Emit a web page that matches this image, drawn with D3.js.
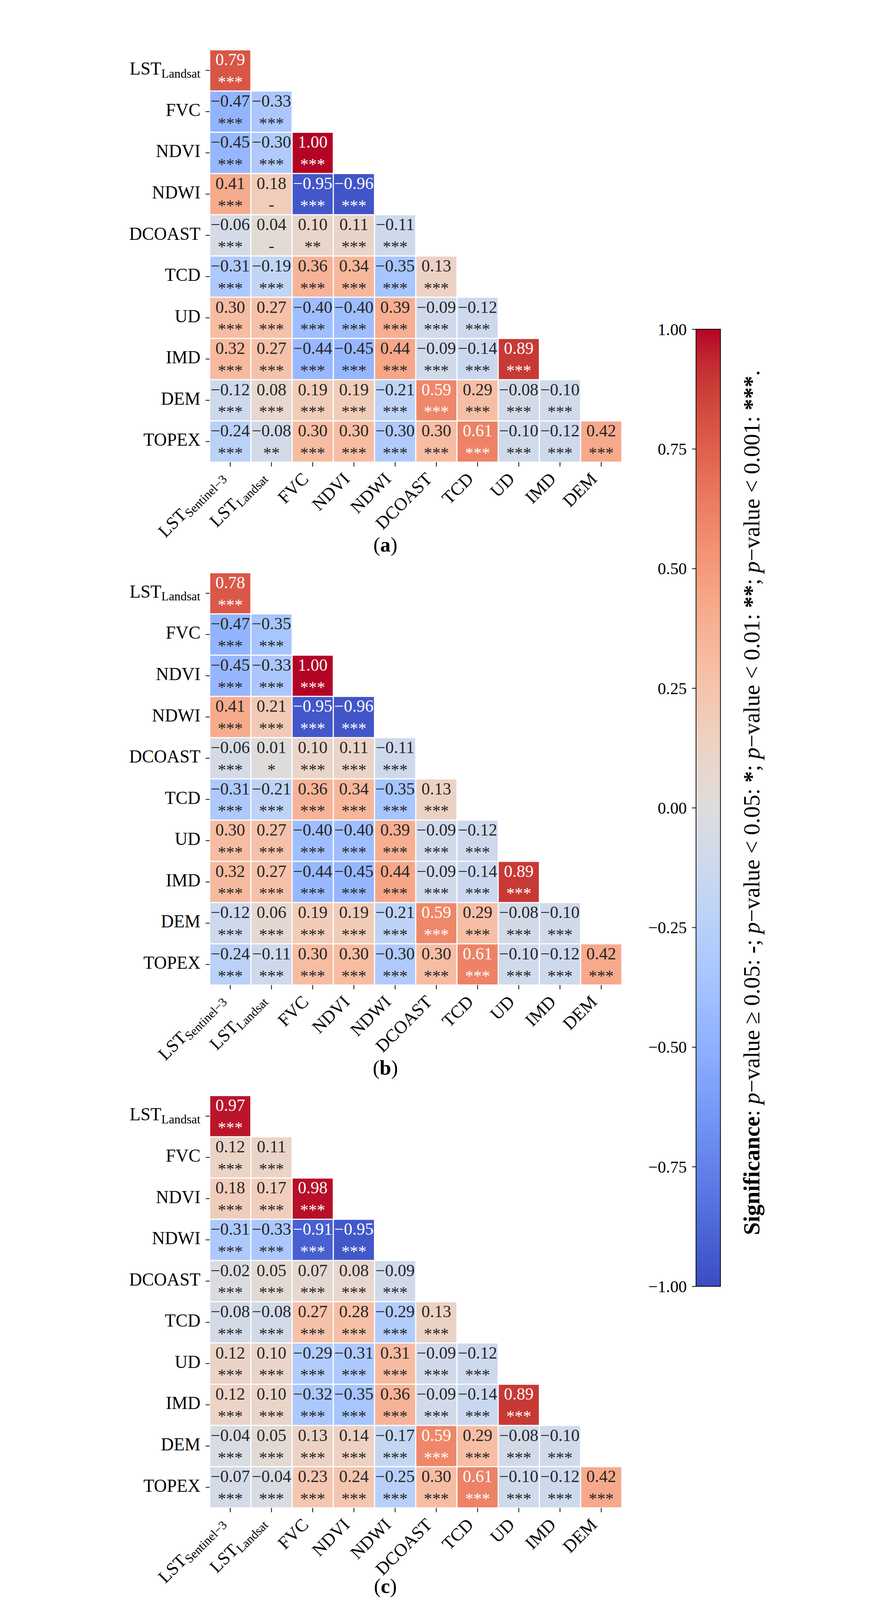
<!DOCTYPE html>
<html>
<head>
<meta charset="utf-8">
<script src="https://cdn.jsdelivr.net/npm/d3@7"></script>
<style>
  html, body { margin: 0; padding: 0; background: #fff; overflow: hidden; }
  svg { display: block; }
</style>
</head>
<body>
<svg id="chart"></svg>
<script>
// labels (main text, subscript)
const rowLabels = [["LST", "Landsat"], ["FVC"], ["NDVI"], ["NDWI"], ["DCOAST"], ["TCD"], ["UD"], ["IMD"], ["DEM"], ["TOPEX"]];
const colLabels = [["LST", "Sentinel\u22123"], ["LST", "Landsat"], ["FVC"], ["NDVI"], ["NDWI"], ["DCOAST"], ["TCD"], ["UD"], ["IMD"], ["DEM"]];
const panelNames = ["a", "b", "c"];

// lower triangle correlations, one row per variable
const valuesA = [
  [0.79],
  [-0.47, -0.33],
  [-0.45, -0.30, 1.00],
  [0.41, 0.18, -0.95, -0.96],
  [-0.06, 0.04, 0.10, 0.11, -0.11],
  [-0.31, -0.19, 0.36, 0.34, -0.35, 0.13],
  [0.30, 0.27, -0.40, -0.40, 0.39, -0.09, -0.12],
  [0.32, 0.27, -0.44, -0.45, 0.44, -0.09, -0.14, 0.89],
  [-0.12, 0.08, 0.19, 0.19, -0.21, 0.59, 0.29, -0.08, -0.10],
  [-0.24, -0.08, 0.30, 0.30, -0.30, 0.30, 0.61, -0.10, -0.12, 0.42]
];
const sigA = [
  ["***"],
  ["***", "***"],
  ["***", "***", "***"],
  ["***", "-", "***", "***"],
  ["***", "-", "**", "***", "***"],
  ["***", "***", "***", "***", "***", "***"],
  ["***", "***", "***", "***", "***", "***", "***"],
  ["***", "***", "***", "***", "***", "***", "***", "***"],
  ["***", "***", "***", "***", "***", "***", "***", "***", "***"],
  ["***", "**", "***", "***", "***", "***", "***", "***", "***", "***"]
];

const valuesB = [
  [0.78],
  [-0.47, -0.35],
  [-0.45, -0.33, 1.00],
  [0.41, 0.21, -0.95, -0.96],
  [-0.06, 0.01, 0.10, 0.11, -0.11],
  [-0.31, -0.21, 0.36, 0.34, -0.35, 0.13],
  [0.30, 0.27, -0.40, -0.40, 0.39, -0.09, -0.12],
  [0.32, 0.27, -0.44, -0.45, 0.44, -0.09, -0.14, 0.89],
  [-0.12, 0.06, 0.19, 0.19, -0.21, 0.59, 0.29, -0.08, -0.10],
  [-0.24, -0.11, 0.30, 0.30, -0.30, 0.30, 0.61, -0.10, -0.12, 0.42]
];
const sigB = [
  ["***"],
  ["***", "***"],
  ["***", "***", "***"],
  ["***", "***", "***", "***"],
  ["***", "*", "***", "***", "***"],
  ["***", "***", "***", "***", "***", "***"],
  ["***", "***", "***", "***", "***", "***", "***"],
  ["***", "***", "***", "***", "***", "***", "***", "***"],
  ["***", "***", "***", "***", "***", "***", "***", "***", "***"],
  ["***", "***", "***", "***", "***", "***", "***", "***", "***", "***"]
];

const valuesC = [
  [0.97],
  [0.12, 0.11],
  [0.18, 0.17, 0.98],
  [-0.31, -0.33, -0.91, -0.95],
  [-0.02, 0.05, 0.07, 0.08, -0.09],
  [-0.08, -0.08, 0.27, 0.28, -0.29, 0.13],
  [0.12, 0.10, -0.29, -0.31, 0.31, -0.09, -0.12],
  [0.12, 0.10, -0.32, -0.35, 0.36, -0.09, -0.14, 0.89],
  [-0.04, 0.05, 0.13, 0.14, -0.17, 0.59, 0.29, -0.08, -0.10],
  [-0.07, -0.04, 0.23, 0.24, -0.25, 0.30, 0.61, -0.10, -0.12, 0.42]
];
const sigC = [
  ["***"],
  ["***", "***"],
  ["***", "***", "***"],
  ["***", "***", "***", "***"],
  ["***", "***", "***", "***", "***"],
  ["***", "***", "***", "***", "***", "***"],
  ["***", "***", "***", "***", "***", "***", "***"],
  ["***", "***", "***", "***", "***", "***", "***", "***"],
  ["***", "***", "***", "***", "***", "***", "***", "***", "***"],
  ["***", "***", "***", "***", "***", "***", "***", "***", "***", "***"]
];

const cbTicks = [-1, -0.75, -0.5, -0.25, 0, 0.25, 0.5, 0.75, 1];

// coolwarm anchors (style)
const coolwarm = ["#3b4cc0", "#445acc", "#4d68d7", "#5775e1", "#6282ea", "#6c8ef1", "#779af7", "#82a5fb",
  "#8db0fe", "#98b9ff", "#a3c2ff", "#aec9fd", "#b8d0f9", "#c2d5f4", "#ccd9ee", "#d5dbe6", "#dddddd",
  "#e5d8d1", "#ecd3c5", "#f1ccb9", "#f5c4ad", "#f7bba0", "#f7b194", "#f7a687", "#f49a7b", "#f18d6f",
  "#ec7f63", "#e57058", "#de604d", "#d55042", "#cb3e38", "#c0282f", "#b40426"];

// the figure is laid out at 2277 x 5560 and scaled to fit the window
const W = 2277, H = 5560;
const font = "'Liberation Serif', 'DejaVu Serif', serif";
const svg = d3.select("#chart")
  .attr("width", window.innerWidth || W)
  .attr("height", window.innerHeight || H)
  .attr("viewBox", `0 0 ${W} ${H}`)
  .attr("preserveAspectRatio", "xMidYMid meet")
  .style("font-family", font);
svg.append("rect").attr("width", W).attr("height", H).attr("fill", "#fff");

const color = d3.scaleLinear()
  .domain(coolwarm.map((c, i) => -1 + 2 * i / (coolwarm.length - 1)))
  .range(coolwarm)
  .clamp(true);

// seaborn picks white or dark text from the cell luminance
function luminance(c) {
  const rgb = d3.rgb(c);
  const f = v => { v /= 255; return v <= 0.03928 ? v / 12.92 : Math.pow((v + 0.055) / 1.055, 2.4); };
  return 0.2126 * f(rgb.r) + 0.7152 * f(rgb.g) + 0.0722 * f(rgb.b);
}
const fmt = d3.format(".2f");

const gridLeft = 322, cell = 143.3;
const panelTops = [173, 1990, 3807];
const panels = [[valuesA, sigA], [valuesB, sigB], [valuesC, sigC]];

const x = d3.scaleBand().domain(d3.range(10)).range([gridLeft, gridLeft + 10 * cell]);

panels.forEach(([values, sig], p) => {
  const top = panelTops[p];
  const y = d3.scaleBand().domain(d3.range(10)).range([top, top + 10 * cell]);
  const g = svg.append("g").attr("class", "panel-" + panelNames[p]);

  const cells = [];
  values.forEach((row, i) => row.forEach((v, j) => cells.push({ i, j, v, s: sig[i][j] })));

  g.selectAll("rect.cell").data(cells).join("rect")
    .attr("class", "cell")
    .attr("x", d => x(d.j) + 2)
    .attr("y", d => y(d.i) + 2)
    .attr("width", x.bandwidth() - 4)
    .attr("height", y.bandwidth() - 4)
    .attr("fill", d => color(d.v));

  const txtColor = d => luminance(color(d.v)) > 0.408 ? "#262626" : "#ffffff";

  g.selectAll("text.val").data(cells).join("text")
    .attr("class", "val")
    .attr("x", d => x(d.j) + x.bandwidth() / 2)
    .attr("y", d => y(d.i) + 54)
    .attr("text-anchor", "middle")
    .attr("font-size", 59)
    .attr("fill", txtColor)
    .text(d => fmt(d.v));

  g.selectAll("text.sig").data(cells).join("text")
    .attr("class", "sig")
    .attr("x", d => x(d.j) + x.bandwidth() / 2)
    .attr("y", d => y(d.i) + (d.s === "-" ? 126 : 131))
    .attr("text-anchor", "middle")
    .attr("font-size", 58)
    .attr("fill", txtColor)
    .text(d => d.s);

  // y axis
  const ya = g.append("g")
    .attr("transform", `translate(${gridLeft},0)`)
    .call(d3.axisLeft(y).tickSize(14).tickPadding(18).tickFormat(""));
  ya.attr("font-size", null).attr("font-family", null);
  ya.select(".domain").remove();
  ya.selectAll(".tick line").attr("stroke", "#000").attr("stroke-width", 2.6);
  ya.selectAll(".tick text").each(function (i) {
    const t = d3.select(this).attr("font-size", 62).attr("fill", "#000").attr("dy", 15);
    t.append("tspan").text(rowLabels[i][0]);
    if (rowLabels[i][1]) t.append("tspan").attr("font-size", 43).attr("dy", 10).text(rowLabels[i][1]);
  });

  // x axis
  const xa = g.append("g")
    .attr("transform", `translate(0,${top + 10 * cell})`)
    .call(d3.axisBottom(x).tickSize(15).tickFormat(""));
  xa.attr("font-size", null).attr("font-family", null);
  xa.select(".domain").remove();
  xa.selectAll(".tick line").attr("stroke", "#000").attr("stroke-width", 2.6);
  xa.selectAll(".tick text").each(function (j) {
    const sub = !!colLabels[j][1];
    const t = d3.select(this)
      .attr("y", null).attr("dy", null)
      .attr("font-size", 62).attr("fill", "#000")
      .attr("text-anchor", "end")
      .attr("transform", `translate(${sub ? -16 : -11},${sub ? 55 : 62}) rotate(-45)`);
    t.append("tspan").text(colLabels[j][0]);
    if (sub) t.append("tspan").attr("font-size", 43).attr("dy", 10).text(colLabels[j][1]);
  });

  // panel label
  const lab = svg.append("text")
    .attr("x", 933)
    .attr("y", Math.min(top + 1744, H - 24))
    .attr("text-anchor", "middle")
    .attr("font-size", 72)
    .attr("fill", "#000");
  lab.append("tspan").text("(");
  lab.append("tspan").attr("font-weight", "bold").text(panelNames[p]);
  lab.append("tspan").text(")");
});

// colorbar
const cbX = 2013, cbW = 85, cbTop = 1144, cbBottom = 4470;
const cb = d3.scaleLinear().domain([-1, 1]).range([cbBottom, cbTop]);
const grad = svg.append("defs").append("linearGradient")
  .attr("id", "cbgrad").attr("x1", 0).attr("y1", 1).attr("x2", 0).attr("y2", 0);
grad.selectAll("stop").data(d3.range(0, 1.0001, 1 / 64)).join("stop")
  .attr("offset", t => t)
  .attr("stop-color", t => color(-1 + 2 * t));
svg.append("rect")
  .attr("x", cbX).attr("y", cbTop)
  .attr("width", cbW).attr("height", cbBottom - cbTop)
  .attr("fill", "url(#cbgrad)")
  .attr("stroke", "#000").attr("stroke-width", 2.6);

const cba = svg.append("g")
  .attr("transform", `translate(${cbX},0)`)
  .call(d3.axisLeft(cb).tickValues(cbTicks).tickFormat(fmt).tickSize(14).tickPadding(18));
cba.attr("font-size", null).attr("font-family", null);
cba.select(".domain").remove();
cba.selectAll(".tick line").attr("stroke", "#000").attr("stroke-width", 2.6);
cba.selectAll(".tick text").attr("font-size", 58).attr("fill", "#000").attr("dy", "0.34em");

// significance legend text along the colorbar
const sigParts = [
  ["Significance", "bold"], [": ", ""], ["p", "italic"], ["\u2212value \u2265 0.05: ", ""], ["-", "bold"], ["; ", ""],
  ["p", "italic"], ["\u2212value < 0.05: ", ""], ["*", "bold"], ["; ", ""],
  ["p", "italic"], ["\u2212value < 0.01: ", ""], ["**", "bold"], ["; ", ""],
  ["p", "italic"], ["\u2212value < 0.001: ", ""], ["***", "bold"], [".", ""]
];
const sigLabel = svg.append("text")
  .attr("transform", `translate(2233,${(cbTop + cbBottom) / 2 - 18}) rotate(-90)`)
  .attr("text-anchor", "middle")
  .attr("font-size", 78)
  .attr("fill", "#000")
  .style("white-space", "pre");
sigParts.forEach(([s, st]) => {
  const ts = sigLabel.append("tspan").text(s);
  if (st === "bold") ts.attr("font-weight", "bold");
  if (st === "italic") ts.attr("font-style", "italic");
});
const len = sigLabel.node().getComputedTextLength();
if (len > 0) sigLabel.attr("font-size", 78 * 3006 / len);
</script>
</body>
</html>
